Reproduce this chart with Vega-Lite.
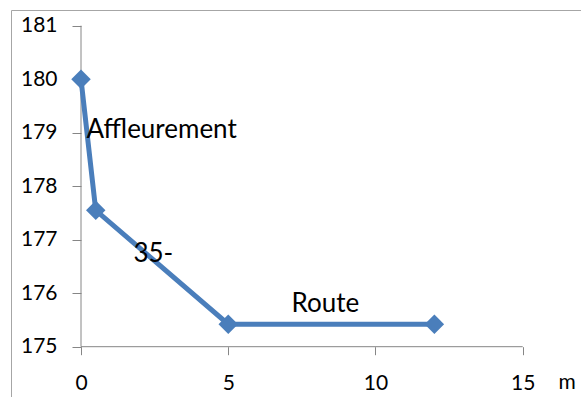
{
  "$schema": "https://vega.github.io/schema/vega-lite/v6.json",
  "width": 570,
  "height": 387,
  "autosize": {"type": "none"},
  "padding": {"left": 11, "top": 10, "right": 0, "bottom": 0},
  "background": "white",
  "config": {"view": {"stroke": "#a6a6a6", "strokeWidth": 1}, "font": "Lato"},
  "datasets": {
    "profile": [
      {"d": 0, "z": 180},
      {"d": 0.5, "z": 177.55},
      {"d": 5, "z": 175.42},
      {"d": 12, "z": 175.42}
    ],
    "labels": [
      {"d": 0.19, "z": 178.9, "t": "Affleurement"},
      {"d": 1.78, "z": 176.59, "t": "35-"},
      {"d": 7.15, "z": 175.65, "t": "Route"}
    ],
    "one": [{}]
  },
  "layer": [
    {
      "data": {"name": "one"},
      "mark": {"type": "rule", "color": "#868686", "strokeWidth": 1},
      "encoding": {
        "x": {"datum": 0, "type": "quantitative"},
        "y": {"datum": 175, "type": "quantitative"},
        "y2": {"datum": 181}
      }
    },
    {
      "data": {"name": "one"},
      "mark": {"type": "rule", "color": "#868686", "strokeWidth": 1},
      "encoding": {
        "x": {"datum": 0, "type": "quantitative"},
        "x2": {"datum": 15},
        "y": {"datum": 175, "type": "quantitative"}
      }
    },
    {
      "data": {"name": "profile"},
      "mark": {
        "type": "line",
        "color": "#4A7EBB",
        "strokeWidth": 5,
        "point": {"shape": "diamond", "size": 380, "filled": true, "color": "#4A7EBB", "opacity": 1}
      },
      "encoding": {
        "x": {
          "field": "d",
          "type": "quantitative",
          "scale": {"domain": [-2.3772, 16.98], "nice": false, "zero": false},
          "axis": {
            "values": [0, 5, 10, 15],
            "domain": false,
            "grid": false,
            "tickSize": 8,
            "tickColor": "#868686",
            "tickWidth": 1,
            "labelFont": "Lato",
            "labelFontSize": 21,
            "labelColor": "black",
            "labelPadding": 18,
            "labelFlush": false,
            "labelOverlap": false,
            "offset": -50.3,
            "title": "m",
            "titleX": 555.7,
            "titleY": 41.6,
            "titleAlign": "center",
            "titleBaseline": "alphabetic",
            "titleFont": "Lato",
            "titleFontWeight": "normal",
            "titleFontSize": 21,
            "titleColor": "black"
          }
        },
        "y": {
          "field": "z",
          "type": "quantitative",
          "scale": {"domain": [174.0598, 181.2935], "nice": false, "zero": false},
          "axis": {
            "values": [175, 176, 177, 178, 179, 180, 181],
            "domain": false,
            "grid": false,
            "tickSize": 9,
            "tickColor": "#868686",
            "tickWidth": 1,
            "labelFont": "Lato",
            "labelFontSize": 21,
            "labelColor": "black",
            "labelPadding": 15,
            "labelFlush": false,
            "labelOverlap": false,
            "labelBaseline": "middle",
            "offset": -70,
            "title": null
          }
        }
      }
    },
    {
      "data": {"name": "labels"},
      "mark": {"type": "text", "align": "left", "baseline": "alphabetic", "font": "Lato", "fontSize": 26, "color": "black"},
      "encoding": {
        "x": {"field": "d", "type": "quantitative"},
        "y": {"field": "z", "type": "quantitative"},
        "text": {"field": "t"}
      }
    }
  ]
}
